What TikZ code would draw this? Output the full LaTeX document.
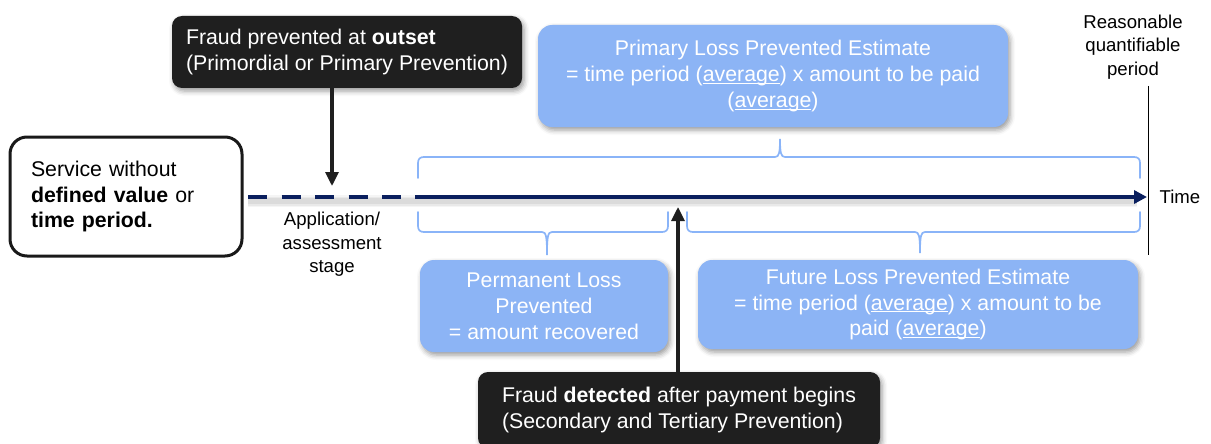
\documentclass[tikz,border=0pt]{standalone}
\usepackage{fontspec}
\setmainfont{Liberation Sans}
\usetikzlibrary{arrows.meta,shadows.blur,calc}

\definecolor{navy}{HTML}{0A1F5E}
\definecolor{boxblue}{HTML}{8CB4F5}
\definecolor{bracecol}{HTML}{8AB4F8}
\definecolor{panel}{HTML}{1F1F1F}

% underline drawn just below the baseline
\newcommand\undl[1]{\setbox0\hbox{#1}\rlap{\rule[-2.4pt]{\wd0}{1pt}}\box0}

\tikzset{
  bigtext/.style={font=\fontsize{21.3}{25.8}\selectfont},
  smalltext/.style={font=\fontsize{18.6}{23.5}\selectfont},
  softshadow/.style={blur shadow={shadow xshift=2pt, shadow yshift=-3pt,
      shadow blur radius=5pt, shadow opacity=40}},
  bluebox/.style={fill=boxblue, rounded corners=14pt, text=white,
      align=center, bigtext, inner sep=0pt, softshadow},
  darkbox/.style={fill=panel, rounded corners=10pt, text=white,
      align=left, bigtext, inner sep=0pt, softshadow},
  plainbox/.style={draw=black!90, line width=3pt, fill=white,
      rounded corners=17pt, align=left, bigtext, inner sep=0pt},
  brace/.style={draw=bracecol, line width=1.7pt, line cap=round},
  timeline/.style={draw=navy, line width=4.8pt},
  pointer/.style={draw=black!88, line width=3.2pt,
      -{Triangle[length=14pt,width=13pt]}},
  limitline/.style={draw=black, line width=1pt}
}

\begin{document}
\begin{tikzpicture}[x=1pt,y=-1pt]
\useasboundingbox (0,0) rectangle (1211,444);

% anchor points on the time axis
\coordinate (tl-start) at (248,197);
\coordinate (tl-solid) at (415,197);
\coordinate (tl-end)   at (1147,197);
\coordinate (stage)    at (332,197);
\coordinate (detect)   at (678,197);
\coordinate (limit-top) at (1148,86);
\coordinate (limit-bot) at (1148,255);

% boxes
\node[plainbox, minimum width=232pt, minimum height=119pt, text width=190pt]
  (service) at (126,196.5)
  {Service without\\ \textbf{defined value} or\\ \textbf{time period.}};

\node[darkbox, minimum width=350pt, minimum height=72pt]
  (outset) at (347,52)
  {Fraud prevented at \textbf{outset}\\ (Primordial or Primary Prevention)};

\node[bluebox, minimum width=470pt, minimum height=102pt]
  (primary) at (773,76)
  {Primary Loss Prevented Estimate\\
   = time period (\undl{average}) x amount to be paid\\
   (\undl{average})};

\node[bluebox, minimum width=248pt, minimum height=92pt]
  (permanent) at (544,306)
  {Permanent Loss\\ Prevented\\ = amount recovered};

\node[bluebox, minimum width=440pt, minimum height=89pt]
  (future) at (918,304.5)
  {Future Loss Prevented Estimate\\
   = time period (\undl{average}) x amount to be\\
   paid (\undl{average})};

\node[darkbox, minimum width=402pt, minimum height=76pt]
  (detected) at (679,410)
  {Fraud \textbf{detected} after payment begins\\
   (Secondary and Tertiary Prevention)};

% labels
\node[smalltext, align=center] (stage-label) at (332,244.5)
  {Application/\\ assessment\\ stage};
\node[smalltext, align=center] (period-label) at (1133,47)
  {Reasonable\\ quantifiable\\ period};
\node[smalltext] (time-label) at (1180,197) {Time};

% soft shadow under the time axis
\foreach \w/\o in {12/0.04, 9/0.05, 6/0.06}
  \draw[line width=\w pt, black, opacity=\o]
    ([yshift=-4pt]tl-start) -- ([yshift=-4pt,xshift=-10pt]tl-end);

% time axis
\draw[timeline, dash pattern=on 19pt off 14.5pt] (tl-start) -- (tl-solid);
\draw[timeline, -{Triangle[length=13pt,width=13pt]}] (tl-solid) -- (tl-end);

% end of the quantifiable period
\draw[limitline] (limit-top) -- (limit-bot);

% braces
\draw[brace] (418,178) -- (418,163) .. controls (418,159) and (420,157) .. (424,157)
  -- (775,157) .. controls (779,157) and (780,153) .. (780,139)
  .. controls (780,153) and (781,157) .. (785,157)
  -- (1134,157) .. controls (1138,157) and (1140,159) .. (1140,163) -- (1140,178);

\draw[brace] (418,212) -- (418,226) .. controls (418,230) and (420,232) .. (424,232)
  -- (542,232) .. controls (546,232) and (547,236) .. (547,255)
  .. controls (547,236) and (548,232) .. (552,232)
  -- (662,232) .. controls (666,232) and (668,230) .. (668,226) -- (668,212);

\draw[brace] (687,212) -- (687,226) .. controls (687,230) and (689,232) .. (693,232)
  -- (915,232) .. controls (919,232) and (920,236) .. (920,253)
  .. controls (920,236) and (921,232) .. (925,232)
  -- (1134,232) .. controls (1138,232) and (1140,230) .. (1140,226) -- (1140,212);

% pointers onto the time axis
\draw[pointer] (outset.south -| stage) -- ([yshift=11pt]stage);
\draw[pointer] (detected.north -| detect) -- ([yshift=-10pt]detect);
\end{tikzpicture}
\end{document}
